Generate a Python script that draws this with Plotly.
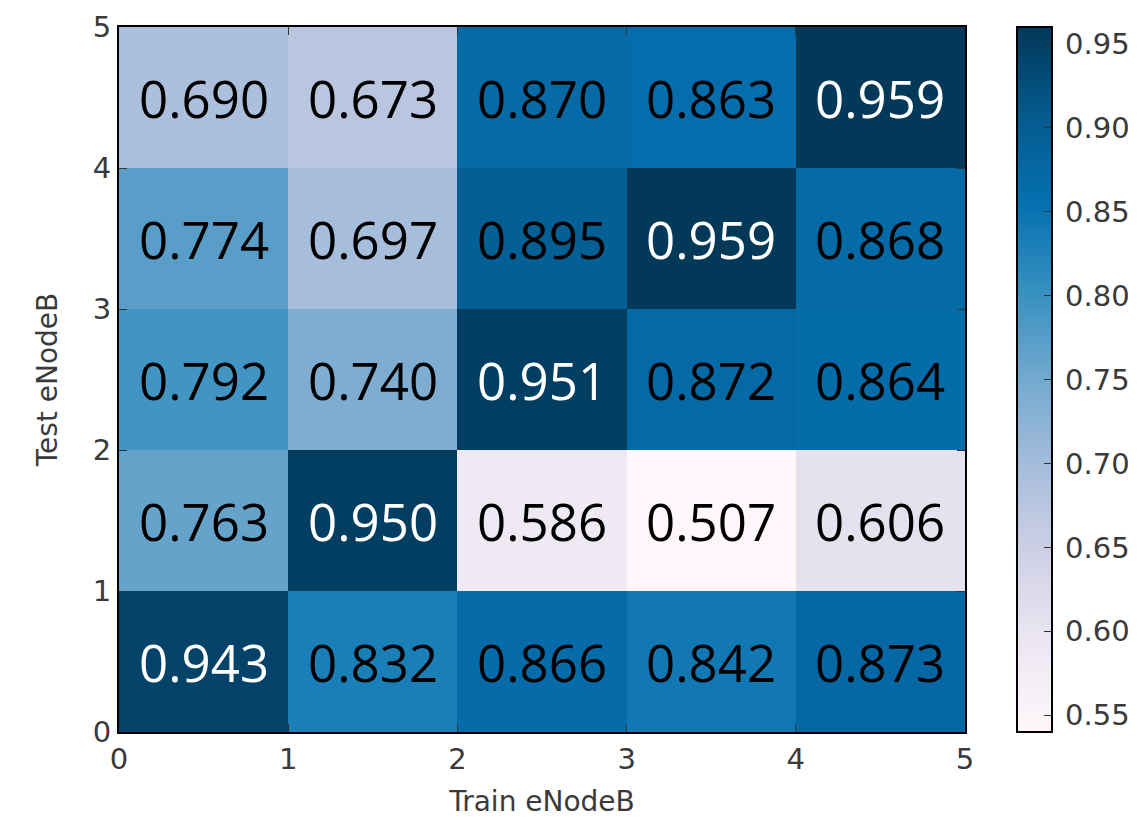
import plotly.graph_objects as go

train_labels = [0, 1, 2, 3, 4]
test_labels = [0, 1, 2, 3, 4]
# rows from bottom (Test 0-1) to top (Test 4-5)
accuracy = [
    [0.943, 0.832, 0.866, 0.842, 0.873],
    [0.763, 0.950, 0.586, 0.507, 0.606],
    [0.792, 0.740, 0.951, 0.872, 0.864],
    [0.774, 0.697, 0.895, 0.959, 0.868],
    [0.690, 0.673, 0.870, 0.863, 0.959],
]
cbar_ticks = [0.55, 0.60, 0.65, 0.70, 0.75, 0.80, 0.85, 0.90, 0.95]
axis_ticks = [0, 1, 2, 3, 4, 5]

pubu = ['#fff7fb', '#ece7f2', '#d0d1e6', '#a6bddb', '#74a9cf',
        '#3690c0', '#0570b0', '#045a8d', '#023858']
colorscale = [[i / (len(pubu) - 1), c] for i, c in enumerate(pubu)]

xc = [v + 0.5 for v in train_labels]
yc = [v + 0.5 for v in test_labels]

fig = go.Figure()
fig.add_trace(go.Heatmap(
    z=accuracy, x=xc, y=yc,
    colorscale=colorscale, zmin=0.54, zmax=0.96,
    hoverinfo='skip',
    colorbar=dict(
        x=1.0615, xanchor='left', xref='paper',
        y=0.5, yanchor='middle', len=1.0, lenmode='fraction',
        thickness=35, thicknessmode='pixels',
        outlinewidth=2, outlinecolor='black',
        tickvals=cbar_ticks, ticktext=["\u2009" + f"{t:.2f}" for t in cbar_ticks],
        ticks='inside', ticklen=9, tickwidth=1, tickcolor='#333',
        tickfont=dict(family='DejaVu Sans', size=29, color='#3a3a3a'),
        ypad=0, xpad=0,
    ),
))

annotations = []
for i, row in enumerate(accuracy):
    for j, v in enumerate(row):
        annotations.append(dict(
            x=xc[j], y=yc[i], xref='x', yref='y',
            text=f"{v:.3f}", showarrow=False,
            font=dict(family='Open Sans', size=51,
                      color='white' if v > 0.94 else 'black'),
        ))

axis_common = dict(
    range=[0, 5], tickvals=axis_ticks, ticktext=[str(t) for t in axis_ticks],
    ticks='inside', ticklen=8, tickwidth=1, tickcolor='#333',
    mirror='ticks', showline=True, linecolor='black', linewidth=2,
    showgrid=False, zeroline=False,
    tickfont=dict(family='DejaVu Sans', size=29, color='#3a3a3a'),
)

fig.update_layout(
    width=1135, height=814,
    margin=dict(l=111, r=178, t=19, b=90, autoexpand=False),
    paper_bgcolor='white', plot_bgcolor='white',
    annotations=annotations,
    xaxis=dict(**axis_common,
               title=dict(text='Train eNodeB', standoff=17,
                          font=dict(family='DejaVu Sans', size=28, color='#3a3a3a'))),
    yaxis=dict(**axis_common,
               title=dict(text='Test eNodeB', standoff=27,
                          font=dict(family='DejaVu Sans', size=28, color='#3a3a3a'))),
)

fig.write_html("out.html")
